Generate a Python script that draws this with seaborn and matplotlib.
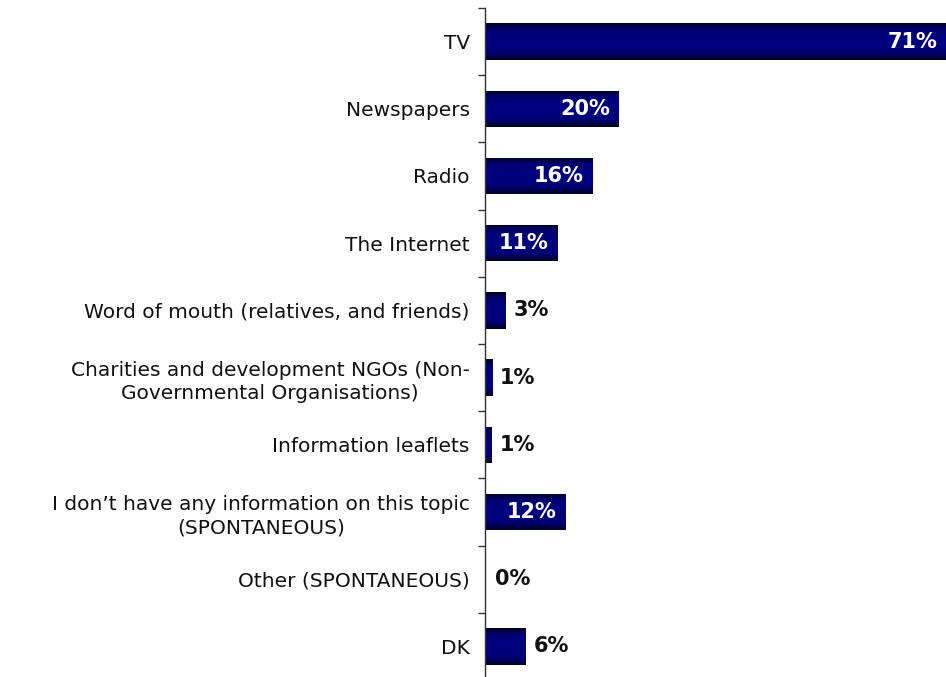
import numpy as np
import pandas as pd
import matplotlib
matplotlib.use("Agg")
import matplotlib.pyplot as plt
import seaborn as sns
from matplotlib.colors import LinearSegmentedColormap

categories = [
    "TV",
    "Newspapers",
    "Radio",
    "The Internet",
    "Word of mouth (relatives, and friends)",
    "Charities and development NGOs (Non-\nGovernmental Organisations)",
    "Information leaflets",
    "I don\u2019t have any information on this topic\n(SPONTANEOUS)",
    "Other (SPONTANEOUS)",
    "DK",
]
values = [71.0, 20.6, 16.5, 11.2, 3.2, 1.1, 1.0, 12.4, 0.0, 6.2]
labels = ["71%", "20%", "16%", "11%", "3%", "1%", "1%", "12%", "0%", "6%"]

sns.set_style("white")
plt.rcParams['font.family'] = ['DejaVu Sans']

df = pd.DataFrame({"cat": categories, "val": values})

fig = plt.figure(figsize=(9.46, 6.77), dpi=100)
ax = fig.add_axes([485/946, -3/677, 461/946, 672/677])

sns.barplot(data=df, y="cat", x="val", orient="h", color="#000080",
            width=0.54, saturation=1, ax=ax, edgecolor="none")

# vertical gradient overlay on each bar
cmap = LinearSegmentedColormap.from_list(
    "bar", [(0, "#000020"), (0.18, "#000070"), (0.35, "#00007f"), (0.5, "#000082"),
            (0.65, "#00007f"), (0.82, "#000070"), (1, "#000020")])
grad = np.linspace(0, 1, 256).reshape(-1, 1)
for p in ax.patches:
    x0, y0 = p.get_x(), p.get_y()
    w, h = p.get_width(), p.get_height()
    if w <= 0:
        continue
    im = ax.imshow(grad, cmap=cmap, aspect="auto",
                   extent=[x0, x0 + w, y0 + h, y0], zorder=p.get_zorder() + 0.1,
                   interpolation="bilinear")
    im.set_clip_path(p)

ax.set_xlim(0, 71)
ax.set_ylim(9.5, -0.5)

# value labels
px_per_unit = 461 / 71
for i, (v, lab) in enumerate(zip(values, labels)):
    if v >= 10:
        ax.text(v - 9 / px_per_unit, i, lab, ha="right", va="center",
                color="white", fontsize=15, fontweight="bold", zorder=5)
    else:
        ax.text(v + 8 / px_per_unit if v > 0 else 1.5, i, lab, ha="left", va="center",
                color="#111111", fontsize=15, fontweight="bold", zorder=5)

ax.set_xlabel("")
ax.set_ylabel("")
ax.set_xticks([])
ax.set_yticks(range(len(categories)))
ax.set_yticklabels(categories, fontsize=14.5, color="#111111",
                   multialignment="center", linespacing=1.3)
ax.set_yticks(np.arange(-0.5, 10.0, 1.0), minor=True)
ax.tick_params(axis="y", which="major", length=0, pad=11)
ax.tick_params(axis="y", which="minor", length=5, width=1, color="#333333", direction="out", left=True)
for s in ["top", "right", "bottom"]:
    ax.spines[s].set_visible(False)
ax.spines["left"].set_color("#333333")
ax.spines["left"].set_linewidth(1)

fig.savefig("out.png", dpi=100)
